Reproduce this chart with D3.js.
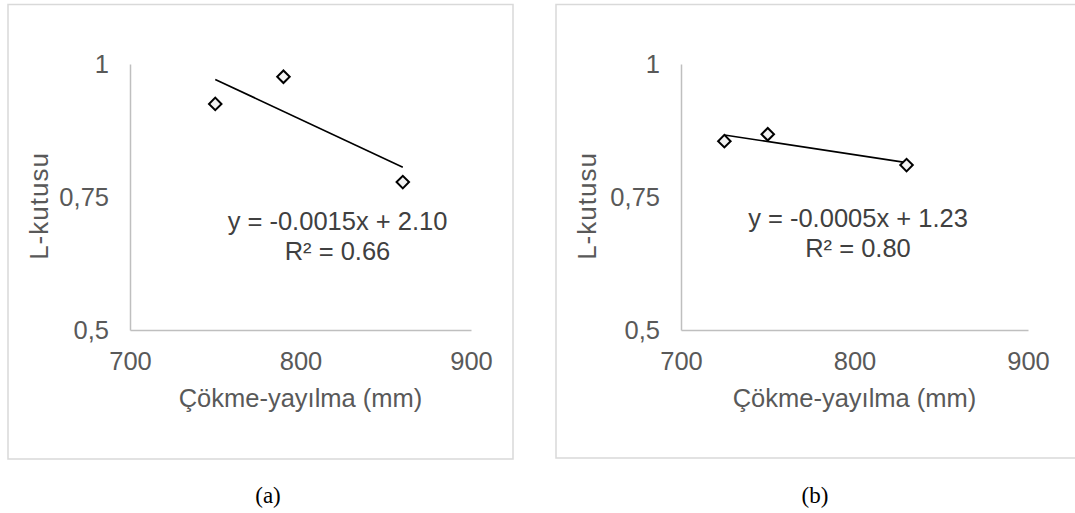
<!DOCTYPE html>
<html>
<head>
<meta charset="utf-8">
<script src="https://cdn.jsdelivr.net/npm/d3@7"></script>
<style>
  html, body { margin: 0; padding: 0; background: #fff; }
  svg { display: block; }
</style>
</head>
<body>
<svg id="chart" width="1075" height="513"></svg>
<script>
// Slump-flow (mm) vs. L-box ratio, two mixes
const slumpA = [750, 790, 860];
const lboxA  = [0.925, 0.976, 0.778];
const slumpB = [725, 750, 830];
const lboxB  = [0.855, 0.868, 0.810];

// Linear trend coefficients [slope, intercept] and R²
const trendA = [-0.00150, 2.096];
const trendB = [-0.000495, 1.2255];
const r2A = 0.66;
const r2B = 0.80;

const xTicks = [700, 800, 900];
const yTicks = [0.5, 0.75, 1];
const yTickLabels = ["0,5", "0,75", "1"];
const xTitle = "Çökme-yayılma (mm)";
const yTitle = "L-kutusu";
const captions = ["(a)", "(b)"];

const svg = d3.select("#chart");
const sans = "'Liberation Sans', Arial, sans-serif";

const panels = [
  { xs: slumpA, ys: lboxA, trend: trendA, r2: r2A, cap: captions[0],
    box: [8, 4.5, 513, 459], plot: [130, 471, 64, 330], yTitleX: 48, eqX: 337.5, eqY: 230, capX: 268 },
  { xs: slumpB, ys: lboxB, trend: trendB, r2: r2B, cap: captions[1],
    box: [556, 4.5, 1085, 458], plot: [681, 1028, 64, 330], yTitleX: 596, eqX: 858, eqY: 227, capX: 815 }
];

panels.forEach(p => {
  const [bx0, by0, bx1, by1] = p.box;
  svg.append("rect")
    .attr("x", bx0).attr("y", by0)
    .attr("width", bx1 - bx0).attr("height", by1 - by0)
    .attr("fill", "#fff").attr("stroke", "#d9d9d9").attr("stroke-width", 1.5);

  const [px0, px1, py0, py1] = p.plot;
  const x = d3.scaleLinear().domain([700, 900]).range([px0, px1]);
  const y = d3.scaleLinear().domain([0.5, 1]).range([py1, py0]);

  const g = svg.append("g");

  // axes
  const xAxis = g.append("g").attr("transform", `translate(0,${py1})`)
    .call(d3.axisBottom(x).tickValues(xTicks).tickSize(0).tickPadding(22).tickFormat(d3.format("d")));
  const yAxis = g.append("g").attr("transform", `translate(${px0},0)`)
    .call(d3.axisLeft(y).tickValues(yTicks).tickSize(0).tickPadding(21)
      .tickFormat((d, i) => yTickLabels[i]));
  [xAxis, yAxis].forEach(a => {
    a.select(".domain").attr("stroke", "#bfbfbf").attr("stroke-width", 1.5);
    a.selectAll("text").attr("fill", "#595959").attr("font-family", sans).attr("font-size", 25.5);
  });

  // axis titles
  g.append("text")
    .attr("x", (px0 + px1) / 2).attr("y", 407)
    .attr("text-anchor", "middle").attr("fill", "#595959")
    .attr("font-family", sans).attr("font-size", 25.5)
    .text(xTitle);
  g.append("text")
    .attr("transform", `translate(${p.yTitleX},${(py0 + py1) / 2 + 9}) rotate(-90)`)
    .attr("text-anchor", "middle").attr("fill", "#595959")
    .attr("font-family", sans).attr("font-size", 26).attr("letter-spacing", 1)
    .text(yTitle);

  // trend line across the data range
  const [m, b] = p.trend;
  const xr = d3.extent(p.xs);
  g.append("path")
    .datum(xr.map(v => [v, m * v + b]))
    .attr("d", d3.line().x(d => x(d[0])).y(d => y(d[1])))
    .attr("fill", "none").attr("stroke", "#000").attr("stroke-width", 1.6);

  // diamond markers
  const sym = d3.symbol().type(d3.symbolSquare).size(78);
  g.selectAll("path.pt")
    .data(p.xs.map((v, i) => [v, p.ys[i]]))
    .join("path").attr("class", "pt")
    .attr("transform", d => `translate(${x(d[0])},${y(d[1])}) rotate(45)`)
    .attr("d", sym)
    .attr("fill", "#f2f2f2").attr("stroke", "#000").attr("stroke-width", 2);

  // equation label
  const eq = `y = ${m.toFixed(4)}x + ${b.toFixed(2)}`;
  const eqText = g.append("text")
    .attr("text-anchor", "middle").attr("fill", "#404040")
    .attr("font-family", sans).attr("font-size", 25.5);
  eqText.append("tspan").attr("x", p.eqX).attr("y", p.eqY).text(eq);
  eqText.append("tspan").attr("x", p.eqX).attr("y", p.eqY + 30).text(`R² = ${p.r2.toFixed(2)}`);

  // caption
  svg.append("text")
    .attr("x", p.capX).attr("y", 503)
    .attr("text-anchor", "middle").attr("fill", "#000")
    .attr("font-family", "'Liberation Serif', 'Times New Roman', serif").attr("font-size", 23)
    .text(p.cap);
});
</script>
</body>
</html>
